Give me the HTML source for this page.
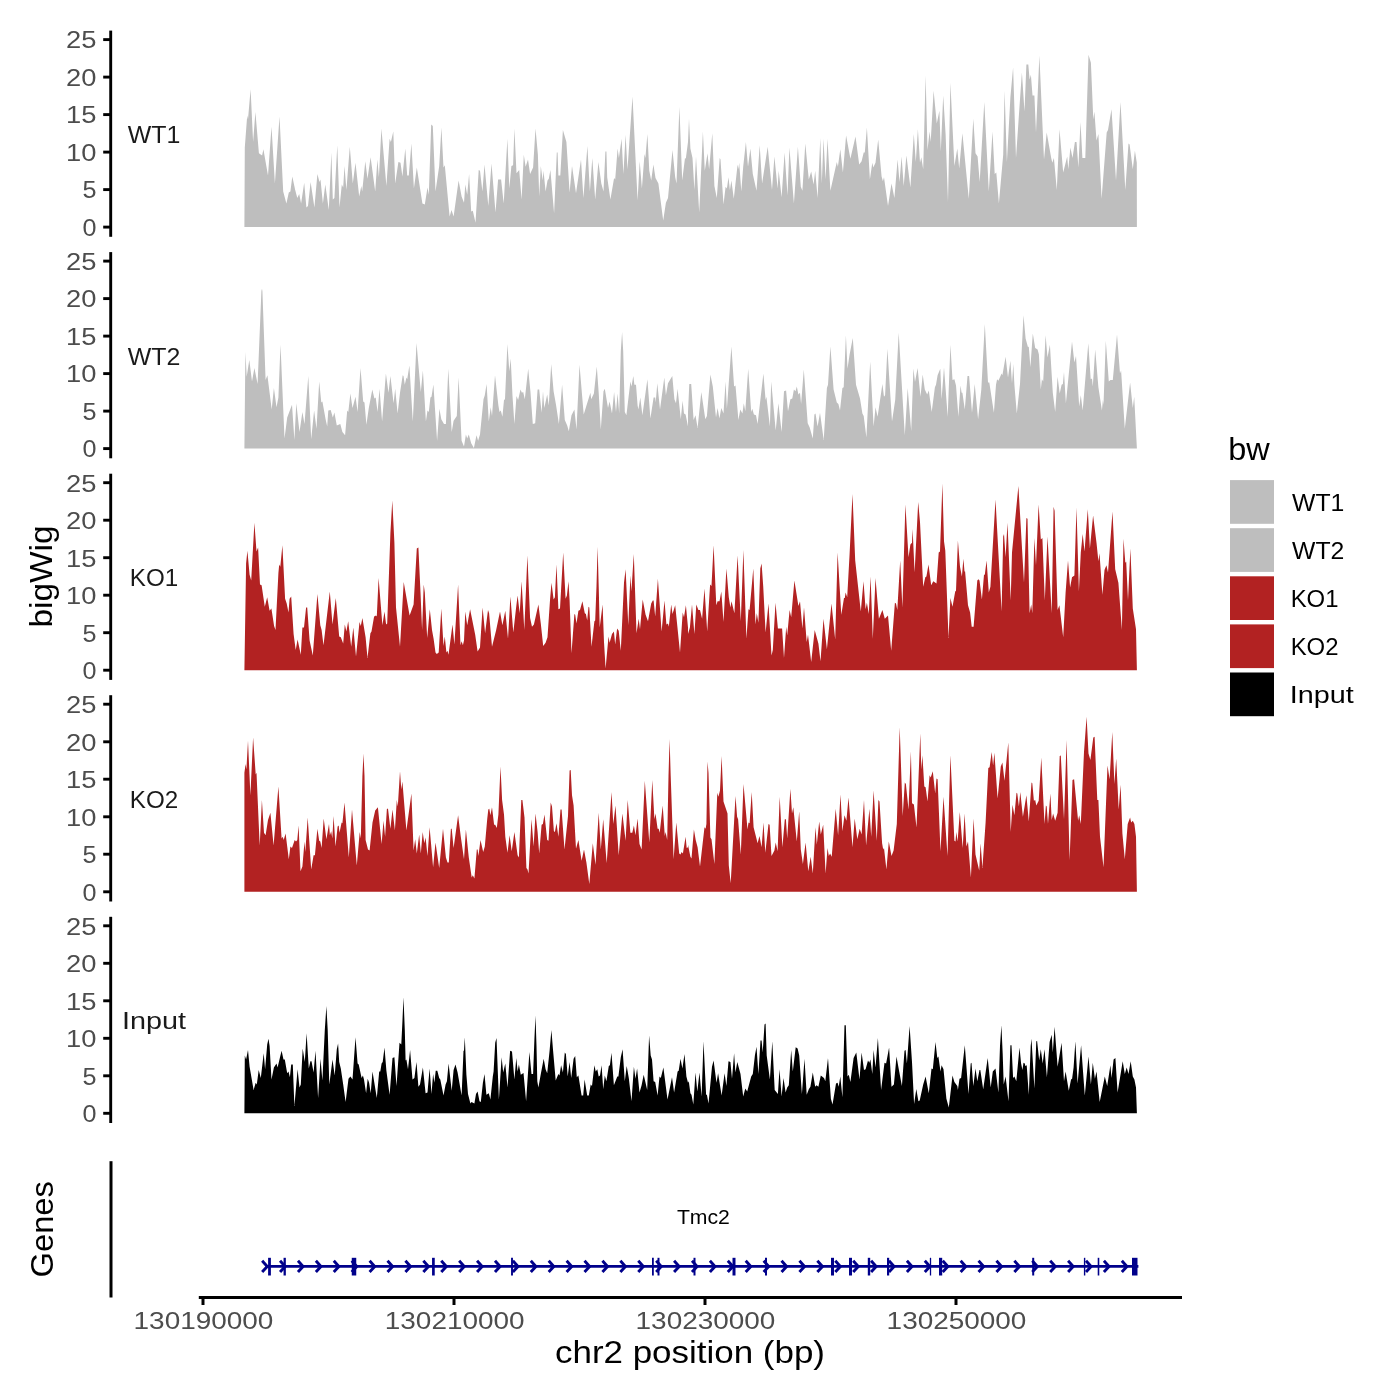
<!DOCTYPE html>
<html><head><meta charset="utf-8"><title>Coverage plot</title>
<style>html,body{margin:0;padding:0;background:#fff}svg{display:block;will-change:transform}text{font-family:"Liberation Sans",sans-serif}</style>
</head><body>
<svg width="1400" height="1400" viewBox="0 0 1400 1400">
<rect width="1400" height="1400" fill="#fff"/>
<path d="M244.4 227.1L244.8 147.6L247.2 115.6L248 119.6L250.6 89.2L253.1 142L255.4 111.9L258.9 153.2L262.1 155.6L263.4 149.2L268 175.6L271.5 126.8L274.9 183.6L279.5 116.4L283.2 191.6L286.4 203.6L288.8 192.4L290.4 191.6L292.3 176.4L295.2 190L297.3 198L299.2 194L301.1 203.6L304.2 182.8L306.4 207.6L308 206L310.6 182L314.4 207.6L317.4 174L319.5 182L320.5 179.6L322.9 203.6L325.3 184.4L328.8 210L331.4 152.4L332.8 199.6L334.4 198L337.3 145.2L339.5 207.6L341.8 184.4L343.2 187.6L344.5 166L346.4 190L349.8 146.8L352.8 183.6L355.5 162.8L359.2 196.4L361.3 186L362.2 191.6L365.3 161.2L367.5 178.8L370.6 157.2L375.2 191.6L377.4 159.6L378.9 177.2L381.4 128.4L386.4 186L389.6 138.8L390.9 142L393.3 131.6L395.2 183.6L398.4 162L400.5 162.8L402.4 176.4L405.3 148.4L407.2 175.6L408.8 175.6L411.4 143.6L413.9 188.4L416.8 167.6L422.4 203.6L424.8 204.4L427.5 187.6L428.8 194.8L431.2 124.4L432.8 126L435.5 191.6L439.2 166L441.4 127.6L443.5 167.6L444.8 165.2L449.6 216.4L451.5 210L453.6 216.4L458.6 180.4L461.6 196.4L464 202.8L465.3 184.4L467.2 194.8L469.1 174L471.2 211.6L472.8 210.8L475.5 222.8L478.7 170L480 170.8L482.4 191.6L484.5 164.4L488.3 206L491.5 163.6L495.5 212.4L498.1 179.6L501.1 179.6L503.7 203.6L507.4 138.8L509.3 188.4L511.4 166L513.1 165.2L514.4 128.4L516.5 173.2L519.2 170L521.6 199.6L523.8 154.8L525.6 166.8L528 159.6L530.1 174L533.1 167.6L535.5 128.4L537.9 154.8L539.2 196.4L540.8 166L542.7 180.4L543.5 170.8L545.6 191.6L547.5 180.4L548.8 178.8L550.4 170L554.1 213.2L556.8 152.4L557.6 152.4L558.4 175.6L560.3 175.6L562.9 130L566.4 142L569.6 192.4L572 166L576 193.2L581 159.6L583.4 198L587.4 146L589.9 191.6L592.3 158L595.2 199.6L598.4 162L601.3 183.6L603.5 191.6L605.4 151.6L606.4 151.6L607.2 177.2L610.4 199.6L614.1 178L615.2 179.6L617.6 148.4L618.9 158L621.6 138.8L623.4 174L625.6 134.8L627.5 169.2L632.5 96.4L637.6 200.4L639.7 161.2L641.9 188.4L644.5 154L645.4 158L647.4 134L649.3 170.8L651.2 180.4L653.4 164.4L655.5 178L658.4 183.6L663.2 220.4L665.9 202.8L668 198L672.5 150L675.2 177.2L676.5 183.6L679.4 106.8L682.2 180.4L685 158L685.8 158.8L688 142L689 118.8L690.4 148.4L692.5 158L694.4 190L696 156.4L699.2 212.4L702.9 131.6L704.8 170.8L707.5 153.2L709.1 169.2L712.3 133.2L714.4 186L716.8 198L719.7 158L720.5 159.6L723.5 204.4L725.6 186.8L726.9 188.4L728.5 177.2L729.9 190L731.4 180.4L733.8 198.8L737.6 164.4L738.4 169.2L739.2 162.8L741.3 191.6L743.2 166.8L745.9 142L748 166.8L750.4 148.4L752.8 174L756.5 190.8L759.7 145.2L762.1 183.6L767.7 146.8L772 190L774.4 156.4L777.6 188.4L778.7 170.8L781.6 197.2L784.6 152.4L787.5 195.6L789.4 147.6L793.9 203.6L797.9 146.8L800.8 186.8L802.4 190.8L805.3 143.6L808.8 179.6L811.2 171.6L813.6 184.4L815.2 170.8L817.6 198L820.3 138L821.8 183.6L823.5 138.8L825.6 179.6L827.5 138.8L830.4 190.8L836.8 162L837.9 166.8L840.3 149.2L842.9 172.4L846.1 135.6L850.4 158.8L855.5 136.4L859.2 164.4L861.6 161.2L863.7 152.4L864.8 152.4L866.9 127.6L869.9 179.6L872.3 162.8L873.3 167.6L875.5 162.8L878.2 139.6L881.6 176.4L882.9 181.2L884 177.2L888 206L891.5 183.6L894.4 198L897.6 159.6L899.5 182L901.6 156.4L903.7 186L906.4 155.6L910.4 187.6L913.8 134L915.8 162L917.9 129.2L920 162.8L921.3 157.2L923.2 169.2L925.6 75.6L927.5 150L929.6 131.6L930.7 142L933.6 90.8L936.8 123.6L939.4 110.8L940.8 151.6L943.2 95.6L945.6 134L948 202L950.4 82.8L954.4 166L957.3 148.4L959.2 168.4L962.4 133.2L968.8 198.8L973.3 118.8L975.5 153.2L977.6 156.4L979.7 182L984.3 102L988.8 191.6L992.5 131.6L994.7 174L996.3 172.4L998.9 203.6L1003.2 154.8L1004.6 90.8L1006.9 162L1010.4 97.2L1013.1 67.6L1016 158L1019.7 103.6L1021.9 72.4L1024.5 111.6L1026.4 64.4L1028.3 64.4L1029.6 79.6L1030.9 74.8L1032.5 95.6L1034.4 95.6L1036 132.4L1039.4 55.6L1044 159.6L1046.7 132.4L1051.2 158L1052.3 162.8L1053.9 158L1056.8 190L1059.5 129.2L1063.2 172.4L1067.2 156.4L1068.3 169.2L1070.4 147.6L1072.5 158L1074.9 142L1076.5 142L1078.4 167.6L1080.5 122L1082.4 158L1085.3 158L1088.5 54.8L1090.9 62.8L1093.3 119.6L1094.4 111.6L1096.5 140.4L1098.4 134L1101.6 198.8L1106.7 132.4L1108 130L1111.5 109.2L1116 180.4L1120.5 102L1125.3 190L1128.5 143.6L1129.6 144.4L1132.8 169.2L1134.9 150.8L1136.8 162.8L1136.9 227.1Z" fill="#BEBEBE"/>
<g stroke="#000" stroke-width="2.9" fill="none">
<line x1="110.7" x2="110.7" y1="30.6" y2="236.8"/>
<line x1="103.2" x2="110" y1="227.1" y2="227.1"/>
<line x1="103.2" x2="110" y1="189.6" y2="189.6"/>
<line x1="103.2" x2="110" y1="152.1" y2="152.1"/>
<line x1="103.2" x2="110" y1="114.6" y2="114.6"/>
<line x1="103.2" x2="110" y1="77.1" y2="77.1"/>
<line x1="103.2" x2="110" y1="39.6" y2="39.6"/>
</g>
<g fill="#4D4D4D" font-size="24.4" text-anchor="end">
<text x="96.5" y="235.9" textLength="14" lengthAdjust="spacingAndGlyphs">0</text>
<text x="96.5" y="198.4" textLength="14" lengthAdjust="spacingAndGlyphs">5</text>
<text x="96.5" y="160.9" textLength="30.4" lengthAdjust="spacingAndGlyphs">10</text>
<text x="96.5" y="123.4" textLength="30.4" lengthAdjust="spacingAndGlyphs">15</text>
<text x="96.5" y="85.9" textLength="30.4" lengthAdjust="spacingAndGlyphs">20</text>
<text x="96.5" y="48.4" textLength="30.4" lengthAdjust="spacingAndGlyphs">25</text>
</g>
<text x="154" y="143" font-size="24.4" fill="#1A1A1A" text-anchor="middle" textLength="52.6" lengthAdjust="spacingAndGlyphs">WT1</text>
<path d="M244.4 448.6L245.4 352L246.7 376.8L249.3 360L252 381.6L254.4 368L257.6 384L261.4 291.2L261.8 289.3L262.1 289.3L262.4 291.2L265.6 380L267.4 375.2L271.7 409.6L273.9 388L276.5 407.2L278.4 397.6L280.5 344.8L284.5 438.4L287.2 417.6L292 404.8L294.4 440L296.3 403.2L299.5 432L302.4 412L304.5 424L308.3 376L311.2 439.2L314.1 410.4L316.5 428.8L319.2 381.6L321.3 402.4L322.4 401.6L325.6 419.2L327.2 426.4L328.3 410.4L330.7 410.1L332.8 417.6L334.4 412.5L336.8 425.6L340.3 424L342.4 432L345.1 435.2L347.2 410.4L348.3 412L350.4 393.6L352.5 408L355.5 396.8L357.6 412L360.5 368L363.2 401.6L364.5 402.4L366.4 424.8L368.8 408L372.3 389.6L374.4 398.4L375.7 397.6L377.6 412L379.5 388.8L382.1 421.6L385.9 373.6L388.5 392.8L390.4 376L393.6 403.2L395.2 388.8L397.6 413.6L400 392.8L402.7 375.2L403.5 376L404.8 384.8L406.4 377.6L407.2 379.2L409.4 365.6L412.8 421.6L416.5 342.9L420.8 392L422.9 370.4L425.9 421.6L427.5 410.4L428.8 412L430.4 397.6L431.5 396.8L433.4 384.5L437.1 440.8L439.4 408.8L441.3 419.2L444 424L445.9 424L448.3 368.8L451.7 432L453.6 420.8L456.8 416L458.6 377.6L461.6 440.8L464 446.4L465.9 434.4L467.2 438.4L468.8 434.4L471.2 443.2L473.9 448L476.5 435.2L478.1 440.8L480 434.4L483.5 399.2L484.8 395.2L486.6 384L488.8 421.6L490.7 407.2L492 416L495 375.2L498.4 405.6L499.5 412L500.8 410.4L502.4 416.8L504 400L505 399.2L507.4 344L509.3 371.2L510.7 358.4L512.5 396L514.4 424L516.5 396L518.1 400L520.5 389.6L521.9 392.8L523.2 392L524.8 399.2L528.2 368.8L530.4 391.2L532.8 424L535.2 423.2L537.6 389.6L539.2 389.6L541.6 412.8L543 391.2L544.3 408L547.2 394.4L548.8 405.6L551.2 364L553.6 391.2L556 404.8L558.9 424L562.1 384.8L564.8 420L567.2 425.6L568.8 431.2L571.5 415.2L574.4 409.6L576.5 429.6L579.5 364.8L583.7 414.4L590.4 392.8L591.2 399.2L593.9 393.6L596.8 366.4L598.7 392.8L600.8 429.6L603.5 391.2L604.8 388.8L608 408L609.6 401.6L612 413.6L614.1 392L616 412L617.6 393.6L619.2 413.6L620.8 351.2L622.1 332L623.2 351.2L624.8 412L626.4 415.2L630.4 381.6L631.5 386.4L633.3 376L634.4 384.8L636 384.8L637.6 405.6L638.4 409.6L640.3 397.6L642.4 415.2L647.4 379.2L650.4 418.4L653.6 397.6L655.2 397.6L655.7 402.4L657.3 383.2L660 409.6L664.3 377.6L665.9 395.2L668 383.2L672.3 376L674.4 399.2L676 403.2L677.6 388.8L680.8 419.2L682.6 400.8L684 413.6L685.6 414.4L688 426.4L688 412L689.3 384L691.2 384L693.6 420L695.5 415.2L697.6 428L701.3 392L705.3 419.2L706.9 416L710.4 374.4L712.8 386.4L716 417.6L717.6 408L719.4 418.4L721.3 408L723.5 413.6L725.6 381.6L726.9 408.8L731.4 346.4L734.1 386.4L735.5 385.6L738.4 420L740.3 409.6L742.4 413.6L743.8 403.2L745.3 411.2L748.2 368.8L751.2 412L752.3 408.8L753.9 414.4L756 415.2L757.6 424L763.4 373.6L765.6 400L766.4 396.8L769.9 426.4L771.2 381.6L775.7 430.4L778.4 403.2L781.6 432L784 391.2L786.1 390.4L788 411.2L790.4 399.2L792.3 398.4L793.9 389.6L795.5 391.2L796.8 386.4L798.4 394.4L800 392.8L801.1 404L803.8 369.6L807.7 423.2L809.6 427.2L812.8 438.4L814.4 414.4L815.5 413.6L817.6 426.4L820 412.8L823.7 440L826.9 388L828 384.8L830.4 346.4L833.6 389.6L836.8 402.4L838.4 404L840 410.4L842.4 388L843.7 387.2L845.9 335.2L847.5 368.8L849.6 354.4L852.8 338.1L856 384.8L860 398.4L862.4 413.6L863.7 416L866.4 437.6L870.2 361.6L873.6 426.4L875.5 407.2L877.6 416.8L882.4 384L884 396.8L885.1 395.2L887.4 348.8L892 421.6L895.2 400L898.7 332.8L904.8 435.2L907.7 388L911.2 431.2L913.4 368.5L915 381.9L917.6 368L920.5 396.8L922.7 374.4L924.8 389.6L927.2 394.4L928.8 390.4L931.7 412L934.9 387.2L936 384.8L937.6 375.2L940.3 368.8L941.6 399.2L944 367.2L947.7 416.8L950.4 344.8L952.5 380L954.4 379.2L956 385.6L958.4 416.8L960.5 385.6L961.6 392.8L962.4 392.8L964.8 409.6L967.5 376L969.1 376L972 412.8L974.7 384L978.1 419.2L981.3 389.6L984.8 324L988 382.4L989.3 382.4L993.9 412.8L996 384.8L997.1 379.2L998.4 380.8L1001.6 373.6L1002.4 375.2L1005.6 356.8L1008 377.6L1010.4 360.8L1012 383.2L1013.3 364L1014.4 384.8L1016.8 413.6L1020 384L1023.5 315.2L1025.6 338.4L1028 347.2L1028.8 346.4L1030.4 367.2L1032.8 333.6L1035.2 348L1037.6 349.6L1038.9 354.4L1040.8 389.6L1041.9 379.2L1043.2 381.6L1045.6 335.2L1047.5 357.6L1049.9 344.8L1052.8 392.8L1055.2 412L1057.6 376.8L1059.7 393.6L1061.6 384.8L1062.9 384L1064 372L1065.9 403.2L1072 341.6L1074.4 362.4L1076 356L1079.2 406.4L1080.8 395.2L1082.7 410.4L1088.3 343.2L1090.7 379.2L1092 378.4L1092.8 386.4L1095.2 349.6L1098.4 387.2L1101.9 410.4L1102.9 400L1103.5 404.8L1105.8 340.8L1108.8 381.6L1110.4 380L1112.8 380L1117 334.4L1120 373.6L1121.1 370.4L1124.8 428.8L1130.1 382.4L1132.8 408L1134.2 396.8L1136.9 448.6Z" fill="#BEBEBE"/>
<g stroke="#000" stroke-width="2.9" fill="none">
<line x1="110.7" x2="110.7" y1="252.1" y2="458.3"/>
<line x1="103.2" x2="110" y1="448.6" y2="448.6"/>
<line x1="103.2" x2="110" y1="411.1" y2="411.1"/>
<line x1="103.2" x2="110" y1="373.6" y2="373.6"/>
<line x1="103.2" x2="110" y1="336.1" y2="336.1"/>
<line x1="103.2" x2="110" y1="298.6" y2="298.6"/>
<line x1="103.2" x2="110" y1="261.1" y2="261.1"/>
</g>
<g fill="#4D4D4D" font-size="24.4" text-anchor="end">
<text x="96.5" y="457.4" textLength="14" lengthAdjust="spacingAndGlyphs">0</text>
<text x="96.5" y="419.9" textLength="14" lengthAdjust="spacingAndGlyphs">5</text>
<text x="96.5" y="382.4" textLength="30.4" lengthAdjust="spacingAndGlyphs">10</text>
<text x="96.5" y="344.9" textLength="30.4" lengthAdjust="spacingAndGlyphs">15</text>
<text x="96.5" y="307.4" textLength="30.4" lengthAdjust="spacingAndGlyphs">20</text>
<text x="96.5" y="269.9" textLength="30.4" lengthAdjust="spacingAndGlyphs">25</text>
</g>
<text x="154" y="364.5" font-size="24.4" fill="#1A1A1A" text-anchor="middle" textLength="52.6" lengthAdjust="spacingAndGlyphs">WT2</text>
<path d="M244.4 670.2L246.1 563.6L247.4 550.8L249.6 574.8L251.2 580.4L254.4 522.8L256.5 551.6L258.1 547.6L260 584.4L261.6 585.2L264.8 606.8L267.2 597.2L269.6 610.8L271.4 608.4L274.1 626L275.5 630L278.4 573.2L279.2 564.4L280.3 566.8L282.4 545.2L285.1 598.8L286.7 603.6L288.5 612.4L289.6 598.8L291.2 596.4L293.6 634L295.7 650L297.6 639.6L300.8 654.8L302.4 627.6L304 627.6L306.1 607.6L307.2 607.6L309.6 640.4L312.8 655.6L317.4 594L320.3 625.2L321.6 630L323.5 645.2L329.8 591.6L332.5 624.4L335.8 598L339.2 636.4L340.8 637.2L343.2 643.6L344.8 624.4L346.4 631.6L348.2 621.2L351.2 646.8L353.3 627.6L356 656.4L359.5 622L360.8 626L362.4 618L365.6 637.2L367.5 658L370.4 633.2L371.5 631.6L374.1 616.4L376 615.6L376.8 616.4L378.6 578L382.4 625.2L384.5 611.6L386.1 624.4L387.2 623.6L390.4 533.2L392.3 500.4L394.4 542.8L396 607.6L400 646.8L403.7 582L409.6 615.6L413.6 604.4L416.8 548.4L418.4 547.6L420.5 592.4L422.1 630L423.7 584.4L424.8 592.4L427.2 638L429.8 609.2L432 630L433.6 638.8L435.5 652.4L436.8 654L438.7 652.4L441.3 608.4L443.5 646L444.8 636.4L446.4 652.4L447.5 650.8L448.5 654.8L452.5 624.4L454.4 644.4L458.1 584.4L460.5 645.2L461.6 641.2L462.9 645.2L464 640.4L465.3 611.6L467.2 625.2L470.1 609.2L475.2 634.8L477.6 651.6L480 647.6L482.6 607.6L485.1 633.2L488 610L489.1 613.2L492 646.8L496 630.8L500 611.6L502.4 625.2L505.3 610.8L508 638.8L510.4 596.4L513.3 632.4L516 608.4L517.6 595.6L519.7 613.2L521.6 581.2L524.3 630L527.4 555.6L530.1 618L532 626.8L533.9 624.4L538.4 604.4L540.8 623.6L543.2 646L545.6 642.8L547.5 637.2L550.1 598.8L551.5 582.8L553.6 599.6L554.9 597.2L556.5 564.4L558.4 609.2L560 608.4L563.2 552.4L565.6 598.8L566.9 595.6L568.5 581.2L569.6 600.4L571.5 653.2L574.4 614L575.2 614.8L576.5 623.6L578.4 610.8L580 610L582.4 601.2L584.8 613.2L585.9 614L587.2 620.4L588.5 606.8L589.3 607.6L591.5 646.8L594.4 621.2L595.2 620.4L596.5 586L597.6 546.8L598.7 586L599.7 627.6L602.6 604.4L604 642L605.6 668.4L608.5 636.4L609.6 642.8L612 634L613.9 631.6L615.2 644.4L617.1 628.4L618.7 630.8L620.8 650.8L624 582.8L625.6 569.2L628.3 625.2L630.4 575.6L631.4 591.6L633.8 554L636.5 633.2L638.7 618.8L640 629.2L642.7 599.6L645.6 614.8L648 621.2L651.2 603.6L652.8 600.4L653.6 600.4L655.2 616.4L657.9 578.8L661.6 631.6L664.5 600.4L666.4 624.4L668 623.6L668.8 626.8L671.2 604.4L672.5 614L675.2 605.2L680 652.4L682.7 612.4L684 617.2L685.9 605.2L688 627.6L688 634L689.9 627.6L692 604.4L694.4 634L696.3 604.4L698.4 610L700 610L702.1 618.8L704.5 588.4L707.2 631.6L710.1 584.4L711.5 586L713.6 545.2L716.3 605.2L717.6 601.2L719.5 601.2L721.3 591.6L723.5 622L726.4 568.4L728.8 597.2L730.4 607.6L731.5 601.2L734.4 613.2L737.6 555.6L740.8 621.2L743.4 550L746.4 638.8L748.5 609.2L749.6 610L753.3 568.4L755.5 624.4L756.8 613.2L758.4 622.8L760.3 568.4L761.6 563.6L763.2 586L765.6 632.4L768.5 603.6L771.5 655.6L772.8 650L775.5 602.8L777.9 628.4L782.1 628.4L784 658L786.2 626.8L787.2 635.6L789.6 610L791.2 617.2L794.4 580.4L798.4 606L800 601.2L802.4 628.4L804 607.6L806.7 642L808 634.8L811.2 662L814.7 630L818.4 643.6L820.5 661.2L823.5 618.8L826.9 649.2L831.5 603.6L835.2 639.6L837.6 552.4L841.3 614.8L844 598L844.8 598L845.6 592.4L847.2 597.2L849.6 554L852.5 494L855.2 560.4L860.8 611.6L863.5 581.2L865.6 609.2L866.9 602.8L868.8 614L870.6 576.4L872.8 638.8L875.5 578L878.9 618.8L882.4 610L884.8 618.8L888 615.6L891.2 650.8L894.9 602.8L896 603.6L897.3 610L900.2 560.4L902.4 607.6L905.4 504.4L908.5 557.2L910.4 544.4L912 542.8L912.6 529L914.6 572.6L918.2 502L920 522L923.2 586.8L925.3 577.2L926.4 576.4L928.5 564.4L931.2 585.2L933.3 581.2L936.5 583.6L938.7 552.4L940 551.6L942.4 483.6L944 541.2L945.3 550.8L948.5 638L950.4 598L952.5 606.8L955.2 591.6L956 590.8L957.9 540.4L960 566.8L961.9 576.4L963.4 558.8L964.5 571.6L965.1 571.6L968 605.2L970.1 612.4L971.7 626.8L973.6 626.8L977.3 580.4L978.4 579.3L979.5 580.4L981.9 599.6L984 574.8L984.8 574.8L986.6 560.4L988.8 592.4L990.4 586.8L995.5 499.6L1001.6 611.6L1003.2 536.4L1004 534L1005.6 557.2L1007.5 522.8L1010.7 600.4L1012 552.4L1018.4 486L1024 582.8L1026.4 518L1027.5 518.8L1029.6 613.2L1031.2 604.4L1032.3 613.2L1034.4 538L1036 565.2L1038.6 504.4L1040.8 539.6L1042.4 538L1044.8 600.4L1047.5 536.4L1051.7 613.2L1053.6 506.8L1054.6 510.8L1057.6 610L1059.4 605.2L1063.2 637.2L1065.6 592.4L1068 560.4L1070.1 587.6L1072 577.2L1074.4 575.6L1076.5 507.6L1078.9 591.6L1080.8 552.4L1082.7 534L1084.5 551.6L1087.8 509.2L1089.9 548.4L1093.1 515.6L1096.5 542.8L1098.4 561.2L1099.5 553.2L1102.4 594.8L1104.5 570L1106.4 565.2L1108 572.4L1112.5 511.6L1115.2 569.2L1118.4 582.8L1121.9 630L1123.5 538.8L1125.3 562.8L1126.2 561.7L1128 600.4L1130.4 548.4L1132.8 608.4L1136 629.2L1136.9 670.2Z" fill="#B22222"/>
<g stroke="#000" stroke-width="2.9" fill="none">
<line x1="110.7" x2="110.7" y1="473.7" y2="679.9"/>
<line x1="103.2" x2="110" y1="670.2" y2="670.2"/>
<line x1="103.2" x2="110" y1="632.7" y2="632.7"/>
<line x1="103.2" x2="110" y1="595.2" y2="595.2"/>
<line x1="103.2" x2="110" y1="557.7" y2="557.7"/>
<line x1="103.2" x2="110" y1="520.2" y2="520.2"/>
<line x1="103.2" x2="110" y1="482.7" y2="482.7"/>
</g>
<g fill="#4D4D4D" font-size="24.4" text-anchor="end">
<text x="96.5" y="679" textLength="14" lengthAdjust="spacingAndGlyphs">0</text>
<text x="96.5" y="641.5" textLength="14" lengthAdjust="spacingAndGlyphs">5</text>
<text x="96.5" y="604" textLength="30.4" lengthAdjust="spacingAndGlyphs">10</text>
<text x="96.5" y="566.5" textLength="30.4" lengthAdjust="spacingAndGlyphs">15</text>
<text x="96.5" y="529" textLength="30.4" lengthAdjust="spacingAndGlyphs">20</text>
<text x="96.5" y="491.5" textLength="30.4" lengthAdjust="spacingAndGlyphs">25</text>
</g>
<text x="154" y="586.1" font-size="24.4" fill="#1A1A1A" text-anchor="middle" textLength="48.4" lengthAdjust="spacingAndGlyphs">KO1</text>
<path d="M244.4 891.8L244.4 772.8L245.6 764L246.4 769.6L248 740.8L250.4 795.2L253.1 737.6L255.7 774.4L256.5 772.8L259.7 845.6L261.9 800L264 832.8L265.6 835.2L268 820L270.4 812.8L273.6 845.6L278.4 786.4L281.6 838.4L282.7 836.8L283.7 840L285.6 833.6L288.8 859.2L290.4 846.4L292 848L294.7 840L296 841.6L297.3 840L298.6 825.6L300.5 871.2L302.4 866.4L304.5 841.6L305.3 852L307.7 817.6L311.2 869.6L313.6 855.2L314.9 855.2L317.4 828.8L319.2 840.8L320.3 841.6L321.6 848L323.7 818.4L326.4 839.2L329 824L329.9 835.2L331.2 831.2L332.3 838.4L333.6 816L335.5 846.4L337.6 826.4L338.7 825.6L339.5 832.8L341.6 822.4L342.4 823.2L344.5 802.4L348.8 857.6L352 809.6L356.8 865.6L359.7 832L360.8 838.4L362.4 776L363.5 753.6L364.5 776L365.6 840L368 849.6L369.6 850.4L372.5 822.4L375.2 810.4L377.9 807.2L381.6 844L383.5 820.8L385.1 836.8L386.9 808.8L388 808.8L390.4 828.8L392.5 809.6L394.9 830.4L396.8 800L397.8 806.4L400 771.2L401.3 789.6L402.4 781.6L406.4 830.4L411.4 793.6L413.6 850.4L415.2 839.2L416.8 853.6L419.2 834.4L420.8 853.6L422.7 832L424.3 843.2L425.6 837.6L427.5 856L429.6 827.2L433.1 867.2L435.5 842.4L439.2 868L443 828.8L445.9 857.6L447.5 862.4L448.8 862.4L450.9 828.8L451.7 828.8L453.6 848L458.1 815.2L460.8 836.8L464 859.2L465.9 829.6L468.8 857.6L471.7 877.6L472.8 875.2L474.4 878.4L476.8 849.6L477.6 849.6L478.4 856L480.5 840L483.2 852L484.8 846.4L487.2 819.2L488.3 809.6L489.3 808.8L490.4 815.2L492 807.2L494.1 824.8L495.2 824.8L496.8 828L498.4 814.4L500.5 766.4L502.1 800L504 814.4L505.3 836.8L507.5 852.8L509.6 835.2L511.7 851.2L514.4 832L517.6 855.2L518.9 857.6L521.3 800L522.4 800L524.5 817.6L526.4 868L527.5 869.6L528.5 873.6L531.5 819.2L533.6 846.4L535.5 813.6L537.6 832L539.2 853.6L541.6 824.8L542.9 824L544.5 814.4L547.2 840L548.5 840.8L550.7 802.4L552 806.4L553.9 831.2L554.9 832L556.5 823.2L558.4 836.8L560.5 809.6L561.6 809.6L564.5 849.6L568 816L569.6 770.4L570.7 769.9L572 795.2L573.6 805.6L576 848.8L578.4 840L581.6 860.8L584 849.6L586.4 862.4L589.3 884L592.8 843.2L595.5 864.8L598.7 812.8L600.8 849.6L603.2 819.2L606.7 863.2L611.5 792L613.3 824L615.5 805.6L618.7 855.2L622.4 813.6L625.6 840.8L627.7 800L630.4 832.8L632.3 832.8L633.9 825.6L635.5 835.2L637.6 818.4L639.5 844L641.6 849.6L644.8 780.8L649.3 842.4L652.3 780L654.4 819.2L655.5 813.6L657.6 828.8L658.7 828.8L659.7 832.8L662.7 805.6L664.8 836L665.6 832L667.2 840L668.5 776L669.6 738.9L670.7 776L673.6 859.2L676.3 822.4L679.2 853.6L680.5 854.4L681.6 852L682.9 853.6L685.6 836.8L686.7 848L688 847.2L688 844.8L690.4 856.8L691.5 858.4L693.9 829.6L695.7 840L697.6 847.2L700 866.4L704.5 827.2L705.6 828.8L706.4 824L707.5 761.6L708.5 772.8L710.4 837.6L711.5 839.2L714.4 864L717.3 792.8L718.4 796.8L720 790.4L721.6 756L723.5 801.6L727.5 813.6L728.8 865.6L730.7 883.2L735.5 796L737.1 816.8L738.1 819.2L740.8 854.4L743.5 784L747.5 829.6L748.5 822.4L749.6 823.2L751.7 792L753.6 827.2L756 836.8L757.6 843.2L759.5 836L761.6 847.2L763.5 822.4L765.3 852.8L768.5 824L769.6 824.8L771.5 856L774.4 850.4L775.7 842.4L777.6 851.2L779.7 796.8L782.4 847.2L784.8 819.2L785.9 819.2L787.2 838.4L790.4 788.8L792 813.6L793.3 807.2L796.8 841.6L799.2 811.2L800.8 849.6L802.9 864L805.6 842.4L808.3 871.2L810.7 856.8L812.8 873.6L815.5 827.2L816.8 844.8L819.2 821.6L820.8 834.4L823.2 824.8L825.6 873.6L827.5 848L828.8 856L830.1 853.6L831.7 856.8L835.7 808.8L838.1 835.2L840.5 794.4L842.4 831.2L844.5 815.2L846.4 820.8L848.5 797.6L852.5 847.2L854.7 818.4L857.3 839.2L859.7 828.8L861.6 834.4L864 800L866.1 845.6L869.4 808.8L871.2 836.8L873.6 790.4L876.8 840.8L878.4 800L879.5 801.6L882.1 843.2L883.2 849.6L884 848L886.4 869.6L888.8 841.6L891.5 856L893.6 850.4L896.8 824L899.7 727.2L902.7 816L904.8 782.4L905.9 784L908.5 809.6L910.9 751.2L912 803.2L913.9 804.6L916.5 827.4L920.3 733.6L921.3 769.6L922.4 755.2L924.3 786.4L925.6 787.2L927.5 801.6L929.6 775.2L930.7 777.6L932.8 771.2L935.2 793.6L936.5 778.4L937.6 779.2L940.5 851.2L943.5 796.8L947.5 856L950.4 755.2L954.4 840.8L955.5 841.6L956.3 832L957.6 841.6L959.8 812L962.7 848L964.6 813.6L966.4 846.4L968 841.6L970.9 877.6L973.6 818.4L975.5 854.4L979.2 870.4L980.6 843.2L982.4 868L985.6 822.4L988.3 768L989.6 767.2L991.7 752L993.1 765.6L994.4 752.8L997.6 798.4L1000.8 766.4L1002.4 762.4L1004.5 780.8L1008.3 742.4L1010.7 832L1012.5 804.8L1014.4 815.2L1016.5 792.8L1017.3 793.6L1018.9 806.4L1020.3 792L1022.9 816.8L1026.4 795.2L1028.8 821.6L1031.5 782.4L1032.3 783.2L1033.9 800.8L1035.2 800L1036.3 805.6L1038.7 800.8L1041.3 757.6L1044.5 824L1045.9 805.6L1046.7 806.4L1048 824L1050.4 793.6L1051.7 820L1053.1 813.6L1055.2 820.8L1057.6 812.8L1059.7 756L1060.8 755.5L1064 819.2L1066.6 740L1069.6 860L1072.5 780L1074.1 779.2L1078.1 820.8L1079.2 815.2L1080.8 824L1084 752L1086.6 716.8L1088.5 753.6L1090.4 760L1093.3 737.6L1094.6 736.8L1097.3 800L1098.4 800L1100 836.8L1103.5 867.2L1107.5 765.6L1109.6 779.2L1112.3 732L1114.4 784L1116.2 758.4L1118.7 809.6L1120.6 784.8L1122.4 833.6L1124.8 859.2L1127.7 824L1130.1 817.6L1131.2 822.4L1132.8 820.8L1134.4 824L1136 836.8L1136.9 891.8Z" fill="#B22222"/>
<g stroke="#000" stroke-width="2.9" fill="none">
<line x1="110.7" x2="110.7" y1="695.2" y2="901.5"/>
<line x1="103.2" x2="110" y1="891.8" y2="891.8"/>
<line x1="103.2" x2="110" y1="854.2" y2="854.2"/>
<line x1="103.2" x2="110" y1="816.8" y2="816.8"/>
<line x1="103.2" x2="110" y1="779.2" y2="779.2"/>
<line x1="103.2" x2="110" y1="741.8" y2="741.8"/>
<line x1="103.2" x2="110" y1="704.2" y2="704.2"/>
</g>
<g fill="#4D4D4D" font-size="24.4" text-anchor="end">
<text x="96.5" y="900.5" textLength="14" lengthAdjust="spacingAndGlyphs">0</text>
<text x="96.5" y="863" textLength="14" lengthAdjust="spacingAndGlyphs">5</text>
<text x="96.5" y="825.5" textLength="30.4" lengthAdjust="spacingAndGlyphs">10</text>
<text x="96.5" y="788" textLength="30.4" lengthAdjust="spacingAndGlyphs">15</text>
<text x="96.5" y="750.5" textLength="30.4" lengthAdjust="spacingAndGlyphs">20</text>
<text x="96.5" y="713" textLength="30.4" lengthAdjust="spacingAndGlyphs">25</text>
</g>
<text x="154" y="807.6" font-size="24.4" fill="#1A1A1A" text-anchor="middle" textLength="48.4" lengthAdjust="spacingAndGlyphs">KO2</text>
<path d="M244.4 1113.3L244.8 1055.6L246.1 1059.6L248 1050L249.6 1066.8L253.6 1090L255.7 1082.8L256.8 1084.4L258.7 1070L260.8 1078L263.7 1053.2L265.1 1069.2L267.2 1044.4L268.5 1038.8L269.6 1046L271.5 1079.6L273.9 1067.6L276.5 1063.6L277.6 1067.6L280 1057.2L281.6 1050.8L283.5 1059.6L284.8 1059.6L287.2 1073.2L288.5 1071.6L289.9 1077.2L291.2 1064.4L292.8 1064.4L294.4 1106L297.6 1069.2L299.5 1087.6L300.8 1084.4L302.7 1048.4L304.8 1062L306.6 1033.2L308.8 1068.4L310.4 1061.2L311.5 1061.2L313.6 1072.4L315.5 1050.8L318.1 1098L320.5 1058.8L322.4 1080.4L324.8 1030L326.4 1006L327.7 1030L329.3 1084.4L332.5 1059.6L334.7 1075.6L336.8 1049.2L338.1 1043.6L339.2 1062L340.8 1068.4L343.2 1084.4L345.6 1102L348.5 1078.8L350.4 1076.4L352.5 1079.6L355.5 1037.2L357.6 1063.6L358.7 1064.4L361.6 1078L362.9 1075.6L364 1079.6L366.1 1093.2L367.7 1078.8L369.1 1082.8L370.7 1093.2L372.5 1071.6L376.8 1098L379.2 1071.6L380.3 1071.6L381.6 1063.6L382.7 1062L384.5 1047.6L386.4 1070.8L389.6 1094.8L392.5 1058L394.4 1057.2L396.5 1086L399.5 1042.8L401.3 1044.4L402.4 1022L403.5 997.2L404.8 1030L405.6 1060.4L406.4 1059.6L408 1069.2L410.1 1050L412.5 1079.6L414.4 1078L416.5 1062L418.4 1086.8L420 1084.4L422.9 1067.6L425.6 1093.2L427.5 1092.4L429.6 1068.4L431.5 1094L433.1 1074L434.4 1082.8L435.7 1070.8L437.3 1070.8L439.2 1078L440.3 1079.6L443.5 1095.6L445.6 1084.4L446.9 1081.2L448.6 1063.6L451.7 1090.8L453.6 1070L455.5 1064.4L457.6 1072.4L461.6 1095.6L463.5 1050.8L464 1050.8L464.8 1037.2L466.4 1074.8L468 1094L470.4 1103.6L471.5 1102L474.4 1103.6L476 1094L477.6 1091.6L479.5 1101.2L480.8 1102L482.9 1082.8L484.5 1074L486.4 1094.8L488.8 1093.2L490.4 1099.6L492.8 1076.4L493.6 1071.6L495.2 1042.8L496.5 1038L498.9 1099.6L501.6 1057.2L503.2 1072.4L505.3 1063.6L507.5 1087.6L510.1 1050.8L512 1051.6L514.4 1079.6L516.3 1058L517.6 1071.6L518.9 1064.4L520.8 1074.8L523.5 1072.9L526.1 1101.2L529.4 1052.1L531.5 1074L533.1 1074L534.4 1039.6L535.5 1015.6L536.5 1046L537.3 1081.2L538.4 1087.6L540.8 1074L543.7 1058.8L545.6 1069.2L547.2 1073.2L549.6 1050.8L551.4 1030L553.1 1050.8L555.7 1080.4L558.4 1074L559.5 1075.6L561.1 1065.2L562.9 1072.4L564.8 1052.4L565.9 1054L567.7 1076.4L569.6 1062L571.2 1078L573.6 1058.8L575.2 1055.9L576.8 1077.2L578.4 1075.6L581.6 1095.6L583.2 1095.6L584.6 1079.6L587.2 1095.6L588.8 1095.6L590.7 1084.4L592 1086L594.4 1065.2L595.7 1071.6L597.3 1069.2L598.7 1076.4L600 1075.6L601.6 1065.2L603.2 1089.2L604.8 1075.6L606.4 1081.2L608.8 1066L609.9 1065.2L611.5 1052.7L613.9 1085.2L617.3 1076.4L618.4 1076.4L620.8 1057.2L622.6 1049.2L624.8 1081.2L626.7 1066L628.8 1078L631.5 1101.2L633.9 1066.8L635.5 1078.8L637.1 1068.4L639.5 1092.4L641.6 1085.2L643.7 1074.8L647.2 1090L649.1 1035.6L650.7 1055.6L652 1059.6L653.6 1081.2L655.2 1082L657.6 1095.6L659.5 1076.4L660.8 1078L663.4 1067.6L667.5 1099.6L672 1077.2L674.1 1092.4L677.6 1071.6L678.7 1070.8L680.5 1058.8L682.4 1068.4L684.5 1054L686.4 1076.4L688 1082.8L688 1082.8L688.8 1081.2L690.4 1093.2L691.5 1094.8L693.3 1104.4L695.5 1072.4L697.3 1091.6L699.5 1072.4L701.6 1096.4L703.5 1041.2L706.1 1094.8L706.9 1094.8L708.5 1103.6L712 1066.8L713.6 1060.4L716.5 1082.8L718.1 1073.2L721.6 1095.6L724.6 1073.2L726.4 1086L728.5 1061.2L730.4 1062L732 1078.8L734.1 1053.2L735.4 1072.4L737.3 1062L740.5 1074L743.2 1096.4L745.3 1088.4L747.2 1091.6L751.2 1076.4L752.8 1074L754.9 1055.6L756.5 1046.8L758.4 1074L760.5 1040.4L761.6 1040.4L762.7 1052.4L764.5 1024.4L765.6 1023.6L766.7 1055.6L769.9 1079.6L772.3 1041.2L774.7 1090L777.9 1094L779.5 1069.2L781.6 1096.4L783.5 1078L785.6 1092.4L787.2 1087.6L788.8 1085.2L791.2 1050L792.8 1071.6L795.7 1047.3L797.6 1048.4L799.2 1055.6L801.9 1094L804.5 1058.8L806.7 1094.8L808.8 1089.2L810.4 1086.8L812.8 1072.4L815.2 1086.8L816.5 1085.2L818.4 1086.8L820.8 1075.6L824 1078L825.3 1081.2L828 1058L830.9 1098.8L832.5 1104.4L836 1083.6L837.6 1082.8L838.7 1086.8L840.3 1076.4L842.4 1097.2L844.5 1025.2L845.8 1025.2L847.5 1076.4L848.8 1074.8L850.4 1082L853.6 1058L856.3 1052.4L859.5 1079.6L861.6 1052.4L864 1070L865.6 1069.2L868 1060.4L869.3 1062.8L870.4 1059.6L872.3 1074L873.6 1050L875.5 1067.6L877.9 1038L881.1 1090L884.5 1062.8L886.1 1063.6L889.1 1047.6L891.5 1086.8L893.9 1084.4L896.5 1056.4L899.2 1071.6L901.9 1086L904.5 1050.8L905.6 1050L906.9 1063.6L909.6 1026L912 1062L914.1 1103.9L916.3 1089L918.4 1101.2L919.7 1100.4L923.2 1084.4L925.6 1076.4L928.8 1093.2L931.5 1068.4L932.8 1069.2L935.5 1042L937.3 1058L938.4 1056.4L940.5 1071.6L941.6 1065.2L943.5 1069.2L946.4 1098.8L948.8 1107.6L952.5 1075.6L954.4 1082L957.3 1086L957.9 1090L959.5 1078.8L961.1 1078L964.8 1045.2L968.5 1094L970.7 1063.6L971.5 1062.8L973.3 1086L975.5 1068.4L977.3 1081.2L979.5 1070L980.3 1070L983.2 1089.2L987.7 1058L990.7 1087.6L992.8 1071.6L995.5 1068.4L998.4 1092.4L1000 1046L1001.4 1025.2L1002.7 1054L1003.7 1084.4L1005.6 1076.4L1008.5 1101.2L1010.4 1045.2L1011.5 1045.2L1013.1 1078L1014.4 1076.4L1016.3 1081.2L1019.5 1047.6L1021.1 1063.6L1022.4 1070L1023.5 1062.8L1024.8 1063.6L1025.3 1066L1026.7 1065.2L1028.8 1094.8L1030.7 1046L1031.5 1038.8L1034.4 1088.4L1036.3 1041.2L1037.1 1040.9L1039.2 1060.4L1040.8 1049.2L1042.7 1063.6L1044.5 1049.2L1046.9 1077.2L1049.6 1042L1051.7 1034.8L1052.8 1052.4L1054.6 1026.8L1057.6 1066.8L1061.6 1042.8L1064 1081.2L1065.6 1071.6L1068.8 1090.8L1071.2 1078.8L1072 1079.6L1073.6 1067.6L1075.4 1041.2L1077.6 1083.6L1081.1 1045.2L1084.8 1095.6L1088.5 1056.4L1090.9 1084.4L1092.8 1062.8L1094.9 1078.8L1096.5 1071.6L1099.7 1102L1104.8 1076.4L1107.2 1086L1110.4 1065.2L1111.5 1078L1113.6 1059.6L1115.4 1058L1117.6 1092.4L1122.7 1061.2L1124.8 1074L1126.7 1067.6L1128.5 1074L1130.7 1061.2L1132.8 1076.4L1134.4 1079.6L1136 1087.6L1136.9 1113.3Z" fill="#000000"/>
<g stroke="#000" stroke-width="2.9" fill="none">
<line x1="110.7" x2="110.7" y1="916.8" y2="1123"/>
<line x1="103.2" x2="110" y1="1113.3" y2="1113.3"/>
<line x1="103.2" x2="110" y1="1075.8" y2="1075.8"/>
<line x1="103.2" x2="110" y1="1038.3" y2="1038.3"/>
<line x1="103.2" x2="110" y1="1000.8" y2="1000.8"/>
<line x1="103.2" x2="110" y1="963.3" y2="963.3"/>
<line x1="103.2" x2="110" y1="925.8" y2="925.8"/>
</g>
<g fill="#4D4D4D" font-size="24.4" text-anchor="end">
<text x="96.5" y="1122.1" textLength="14" lengthAdjust="spacingAndGlyphs">0</text>
<text x="96.5" y="1084.6" textLength="14" lengthAdjust="spacingAndGlyphs">5</text>
<text x="96.5" y="1047.1" textLength="30.4" lengthAdjust="spacingAndGlyphs">10</text>
<text x="96.5" y="1009.6" textLength="30.4" lengthAdjust="spacingAndGlyphs">15</text>
<text x="96.5" y="972.1" textLength="30.4" lengthAdjust="spacingAndGlyphs">20</text>
<text x="96.5" y="934.6" textLength="30.4" lengthAdjust="spacingAndGlyphs">25</text>
</g>
<text x="154" y="1029.2" font-size="24.4" fill="#1A1A1A" text-anchor="middle" textLength="64" lengthAdjust="spacingAndGlyphs">Input</text>
<text transform="translate(52 576.5) rotate(-90)" font-size="30.5" text-anchor="middle" textLength="102" lengthAdjust="spacingAndGlyphs" fill="#000">bigWig</text>
<text transform="translate(53 1229.3) rotate(-90)" font-size="30.5" text-anchor="middle" textLength="96.5" lengthAdjust="spacingAndGlyphs" fill="#000">Genes</text>
<g stroke="#000" stroke-width="3" fill="none">
<line x1="111" x2="111" y1="1161.2" y2="1297.5"/>
<line x1="198.8" x2="1182" y1="1297.5" y2="1297.5"/>
<line x1="203" x2="203" y1="1298" y2="1305"/>
<line x1="454" x2="454" y1="1298" y2="1305"/>
<line x1="705" x2="705" y1="1298" y2="1305"/>
<line x1="956" x2="956" y1="1298" y2="1305"/>
</g>
<g fill="#4D4D4D" font-size="24.4" text-anchor="middle">
<text x="203.5" y="1328.6" textLength="139.8" lengthAdjust="spacingAndGlyphs">130190000</text>
<text x="454.7" y="1328.6" textLength="139.8" lengthAdjust="spacingAndGlyphs">130210000</text>
<text x="705.5" y="1328.6" textLength="139.8" lengthAdjust="spacingAndGlyphs">130230000</text>
<text x="956.5" y="1328.6" textLength="139.8" lengthAdjust="spacingAndGlyphs">130250000</text>
</g>
<text x="690" y="1362.5" font-size="30.5" text-anchor="middle" textLength="270" lengthAdjust="spacingAndGlyphs" fill="#000">chr2 position (bp)</text>
<g stroke="#00008B" fill="none">
<line x1="268" x2="1138.4" y1="1266.4" y2="1266.4" stroke-width="2.6"/>
<path d="M262.15 1260.8L267.25 1266.4L262.15 1272M280.06 1260.8L285.16 1266.4L280.06 1272M297.97 1260.8L303.07 1266.4L297.97 1272M315.88 1260.8L320.98 1266.4L315.88 1272M333.79 1260.8L338.89 1266.4L333.79 1272M351.7 1260.8L356.8 1266.4L351.7 1272M369.61 1260.8L374.71 1266.4L369.61 1272M387.52 1260.8L392.62 1266.4L387.52 1272M405.43 1260.8L410.53 1266.4L405.43 1272M423.34 1260.8L428.44 1266.4L423.34 1272M441.25 1260.8L446.35 1266.4L441.25 1272M459.16 1260.8L464.26 1266.4L459.16 1272M477.07 1260.8L482.17 1266.4L477.07 1272M494.98 1260.8L500.08 1266.4L494.98 1272M512.89 1260.8L517.99 1266.4L512.89 1272M530.8 1260.8L535.9 1266.4L530.8 1272M548.71 1260.8L553.81 1266.4L548.71 1272M566.62 1260.8L571.72 1266.4L566.62 1272M584.53 1260.8L589.63 1266.4L584.53 1272M602.44 1260.8L607.54 1266.4L602.44 1272M620.35 1260.8L625.45 1266.4L620.35 1272M638.26 1260.8L643.36 1266.4L638.26 1272M656.17 1260.8L661.27 1266.4L656.17 1272M674.08 1260.8L679.18 1266.4L674.08 1272M691.99 1260.8L697.09 1266.4L691.99 1272M709.9 1260.8L715 1266.4L709.9 1272M727.81 1260.8L732.91 1266.4L727.81 1272M745.72 1260.8L750.82 1266.4L745.72 1272M763.63 1260.8L768.73 1266.4L763.63 1272M781.54 1260.8L786.64 1266.4L781.54 1272M799.45 1260.8L804.55 1266.4L799.45 1272M817.36 1260.8L822.46 1266.4L817.36 1272M835.27 1260.8L840.37 1266.4L835.27 1272M853.18 1260.8L858.28 1266.4L853.18 1272M871.09 1260.8L876.19 1266.4L871.09 1272M889 1260.8L894.1 1266.4L889 1272M906.91 1260.8L912.01 1266.4L906.91 1272M924.82 1260.8L929.92 1266.4L924.82 1272M942.73 1260.8L947.83 1266.4L942.73 1272M960.64 1260.8L965.74 1266.4L960.64 1272M978.55 1260.8L983.65 1266.4L978.55 1272M996.46 1260.8L1001.56 1266.4L996.46 1272M1014.37 1260.8L1019.47 1266.4L1014.37 1272M1032.28 1260.8L1037.38 1266.4L1032.28 1272M1050.19 1260.8L1055.29 1266.4L1050.19 1272M1068.1 1260.8L1073.2 1266.4L1068.1 1272M1086.01 1260.8L1091.11 1266.4L1086.01 1272M1103.92 1260.8L1109.02 1266.4L1103.92 1272M1121.83 1260.8L1126.93 1266.4L1121.83 1272" stroke-width="2.9" stroke-linejoin="round" stroke-linecap="butt"/>
<line x1="269.5" x2="269.5" y1="1257.8" y2="1275.5" stroke-width="2.8"/>
<line x1="284.7" x2="284.7" y1="1257.8" y2="1275.5" stroke-width="2.3"/>
<line x1="354" x2="354" y1="1257.8" y2="1275.5" stroke-width="4.5"/>
<line x1="433.4" x2="433.4" y1="1257.8" y2="1275.5" stroke-width="2.7"/>
<line x1="512" x2="512" y1="1257.8" y2="1275.5" stroke-width="1.9"/>
<line x1="652.9" x2="652.9" y1="1257.8" y2="1275.5" stroke-width="1.8"/>
<line x1="658.5" x2="658.5" y1="1257.8" y2="1275.5" stroke-width="2"/>
<line x1="694.5" x2="694.5" y1="1257.8" y2="1275.5" stroke-width="2"/>
<line x1="734" x2="734" y1="1257.8" y2="1275.5" stroke-width="3"/>
<line x1="766" x2="766" y1="1257.8" y2="1275.5" stroke-width="2"/>
<line x1="832.5" x2="832.5" y1="1257.8" y2="1275.5" stroke-width="3"/>
<line x1="850.5" x2="850.5" y1="1257.8" y2="1275.5" stroke-width="3"/>
<line x1="869" x2="869" y1="1257.8" y2="1275.5" stroke-width="2.4"/>
<line x1="888.1" x2="888.1" y1="1257.8" y2="1275.5" stroke-width="2.2"/>
<line x1="930.5" x2="930.5" y1="1257.8" y2="1275.5" stroke-width="1.3"/>
<line x1="940.6" x2="940.6" y1="1257.8" y2="1275.5" stroke-width="3.2"/>
<line x1="1033.2" x2="1033.2" y1="1257.8" y2="1275.5" stroke-width="2"/>
<line x1="1084.6" x2="1084.6" y1="1257.8" y2="1275.5" stroke-width="1.4"/>
<line x1="1098.5" x2="1098.5" y1="1257.8" y2="1275.5" stroke-width="1.6"/>
<line x1="1134.75" x2="1134.75" y1="1257.8" y2="1275.5" stroke-width="5.5"/>
</g>
<text x="703.4" y="1223.8" font-size="19.6" text-anchor="middle" textLength="53" lengthAdjust="spacingAndGlyphs" fill="#000">Tmc2</text>
<text x="1228.2" y="459.5" font-size="30.5" textLength="41.5" lengthAdjust="spacingAndGlyphs" fill="#000">bw</text>
<rect x="1230" y="480.1" width="44" height="43.7" fill="#BEBEBE"/>
<text x="1292.1" y="511" font-size="24.4" fill="#000" textLength="52.3" lengthAdjust="spacingAndGlyphs">WT1</text>
<rect x="1230" y="528.2" width="44" height="43.7" fill="#BEBEBE"/>
<text x="1292.1" y="559" font-size="24.4" fill="#000" textLength="52.3" lengthAdjust="spacingAndGlyphs">WT2</text>
<rect x="1230" y="576.3" width="44" height="43.7" fill="#B22222"/>
<text x="1290.7" y="607" font-size="24.4" fill="#000" textLength="47.8" lengthAdjust="spacingAndGlyphs">KO1</text>
<rect x="1230" y="624.4" width="44" height="43.7" fill="#B22222"/>
<text x="1290.7" y="655" font-size="24.4" fill="#000" textLength="47.8" lengthAdjust="spacingAndGlyphs">KO2</text>
<rect x="1230" y="672.5" width="44" height="43.7" fill="#000000"/>
<text x="1289.8" y="703" font-size="24.4" fill="#000" textLength="64" lengthAdjust="spacingAndGlyphs">Input</text>
</svg>
</body></html>
